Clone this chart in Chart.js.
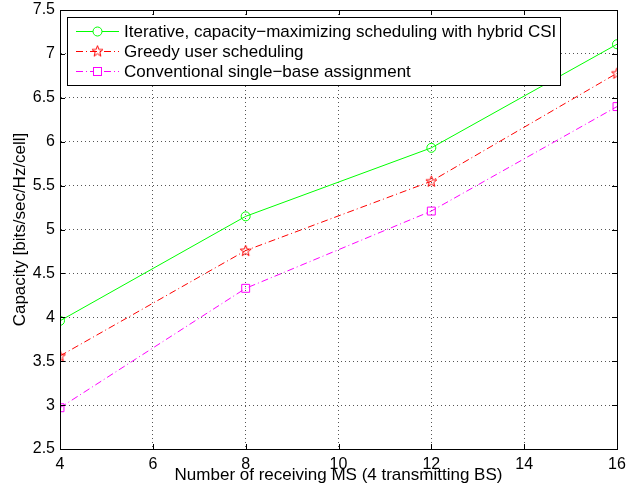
<!DOCTYPE html>
<html>
<head>
<meta charset="utf-8">
<script src="https://cdn.jsdelivr.net/npm/chart.js@4"></script>
<style>
  html, body { margin: 0; padding: 0; background: #fff; }
  #wrap { width: 631px; height: 489px; }
</style>
</head>
<body>
<div id="wrap"><canvas id="capacityChart" width="631" height="489"></canvas></div>
<script>
// Number of receiving MS
const msCounts = [4, 8, 12, 16];
// Capacity [bits/sec/Hz/cell]
const iterativeHybrid = [3.96, 5.15, 5.93, 7.11];
const greedyScheduling = [3.56, 4.76, 5.55, 6.78];
const singleBase = [2.97, 4.33, 5.21, 6.40];

const xTicks = [4, 6, 8, 10, 12, 14, 16];
const yTicks = [2.5, 3, 3.5, 4, 4.5, 5, 5.5, 6, 6.5, 7, 7.5];

const seriesLabels = [
    'Iterative, capacity\u2212maximizing scheduling with hybrid CSI',
    'Greedy user scheduling',
    'Conventional single\u2212base assignment'
];

const FONT = '"Liberation Sans", Arial, Helvetica, sans-serif';
const DASH_DOT = [7, 3, 1, 3];

function makeStar(color) {
    const c = document.createElement('canvas');
    c.width = 13; c.height = 13;
    const g = c.getContext('2d');
    g.strokeStyle = color;
    g.lineWidth = 1;
    g.beginPath();
    for (let i = 0; i < 10; i++) {
        const r = i % 2 === 0 ? 5.8 : 2.4;
        const a = -Math.PI / 2 + i * Math.PI / 5;
        const px = 6.5 + r * Math.cos(a), py = 6.9 + r * Math.sin(a);
        if (i === 0) g.moveTo(px, py); else g.lineTo(px, py);
    }
    g.closePath();
    g.stroke();
    return c;
}
const starIcon = makeStar('#ff0000');

function toPoints(values) {
    return values.map((v, i) => ({ x: msCounts[i], y: v }));
}

// MATLAB-like frame: full box and inward ticks
const framePlugin = {
    id: 'frame',
    afterDatasetsDraw(chart) {
        const { ctx, chartArea: a, scales } = chart;
        ctx.save();
        ctx.strokeStyle = '#000';
        ctx.lineWidth = 1;
        ctx.setLineDash([]);
        ctx.strokeRect(Math.round(a.left) + 0.5, Math.round(a.top) + 0.5,
            Math.round(a.right - a.left), Math.round(a.bottom - a.top));
        const len = 5;
        ctx.beginPath();
        xTicks.forEach(t => {
            const x = Math.round(scales.x.getPixelForValue(t)) + 0.5;
            ctx.moveTo(x, a.bottom); ctx.lineTo(x, a.bottom - len);
            ctx.moveTo(x, a.top); ctx.lineTo(x, a.top + len);
        });
        yTicks.forEach(t => {
            const y = Math.round(scales.y.getPixelForValue(t)) + 0.5;
            ctx.moveTo(a.left, y); ctx.lineTo(a.left + len, y);
            ctx.moveTo(a.right, y); ctx.lineTo(a.right - len, y);
        });
        ctx.stroke();
        ctx.restore();
    }
};

// Boxed legend in the upper left
const boxLegendPlugin = {
    id: 'boxLegend',
    afterDraw(chart) {
        const { ctx } = chart;
        const box = { x: 67.5, y: 17.5, w: 493, h: 68 };
        ctx.save();
        ctx.fillStyle = '#fff';
        ctx.fillRect(box.x, box.y, box.w, box.h);
        ctx.strokeStyle = '#000';
        ctx.lineWidth = 1;
        ctx.strokeRect(box.x, box.y, box.w, box.h);
        ctx.font = '17px ' + FONT;
        ctx.textBaseline = 'middle';
        chart.data.datasets.forEach((ds, i) => {
            const y = 31.5 + i * 20;
            ctx.strokeStyle = ds.borderColor;
            ctx.setLineDash(ds.borderDash || []);
            ctx.beginPath();
            ctx.moveTo(76, y); ctx.lineTo(119, y);
            ctx.stroke();
            ctx.setLineDash([]);
            const mx = 97.5;
            if (ds.pointStyle === 'circle') {
                ctx.beginPath();
                ctx.arc(mx, y, 4.5, 0, Math.PI * 2);
                ctx.fillStyle = '#fff';
                ctx.fill();
                ctx.stroke();
            } else if (ds.pointStyle === 'rect') {
                ctx.fillStyle = '#fff';
                ctx.fillRect(mx - 4, y - 4, 8, 8);
                ctx.strokeRect(mx - 4, y - 4, 8, 8);
            } else {
                ctx.drawImage(ds.pointStyle, mx - 6.5, y - 7);
            }
            ctx.fillStyle = '#000';
            ctx.fillText(ds.label, 124, y + 1);
        });
        ctx.restore();
    }
};

new Chart(document.getElementById('capacityChart').getContext('2d'), {
    type: 'line',
    data: {
        datasets: [{
            label: seriesLabels[0],
            data: toPoints(iterativeHybrid),
            borderColor: '#00ff00',
            borderWidth: 1,
            pointStyle: 'circle',
            pointRadius: 4.5,
            pointBackgroundColor: 'rgba(0,0,0,0)',
            pointBorderColor: '#00ff00',
            pointBorderWidth: 1
        }, {
            label: seriesLabels[1],
            data: toPoints(greedyScheduling),
            borderColor: '#ff0000',
            borderWidth: 1,
            borderDash: DASH_DOT,
            pointStyle: starIcon,
            pointBorderColor: '#ff0000'
        }, {
            label: seriesLabels[2],
            data: toPoints(singleBase),
            borderColor: '#ff00ff',
            borderWidth: 1,
            borderDash: DASH_DOT,
            pointStyle: 'rect',
            pointRadius: 5.6,
            pointBackgroundColor: 'rgba(0,0,0,0)',
            pointBorderColor: '#ff00ff',
            pointBorderWidth: 1
        }]
    },
    options: {
        responsive: false,
        animation: false,
        layout: { padding: { top: 10, right: 14, left: 0, bottom: 3 } },
        plugins: { legend: { display: false }, tooltip: { enabled: false } },
        elements: { line: { tension: 0 } },
        scales: {
            x: {
                type: 'linear',
                min: 4, max: 16,
                afterBuildTicks(scale) { scale.ticks = xTicks.map(v => ({ value: v })); },
                afterFit(scale) {
                    scale.height = 37;
                    scale.paddingLeft = 0;
                    scale.paddingRight = 0;
                },
                grid: { color: '#555', lineWidth: 1, drawTicks: false },
                border: { display: true, color: '#000', width: 1, dash: [1, 3] },
                ticks: { color: '#000', padding: 6, maxRotation: 0, font: { family: FONT, size: 16 } },
                title: { display: true, text: 'Number of receiving MS (4 transmitting BS)', color: '#000', padding: { top: 0, bottom: 0 }, font: { family: FONT, size: 17 } }
            },
            y: {
                type: 'linear',
                min: 2.5, max: 7.5,
                afterBuildTicks(scale) { scale.ticks = yTicks.map(v => ({ value: v })); },
                afterFit(scale) {
                    scale.width = 60;
                    scale.paddingTop = 0;
                    scale.paddingBottom = 0;
                },
                grid: { color: '#555', lineWidth: 1, drawTicks: false },
                border: { display: true, color: '#000', width: 1, dash: [1, 3] },
                ticks: { color: '#000', padding: 5, font: { family: FONT, size: 16 }, callback: v => String(v) },
                title: { display: true, text: 'Capacity [bits/sec/Hz/cell]', color: '#000', padding: { top: 10, bottom: 0 }, font: { family: FONT, size: 17 } }
            }
        }
    },
    plugins: [framePlugin, boxLegendPlugin]
});
</script>
</body>
</html>
